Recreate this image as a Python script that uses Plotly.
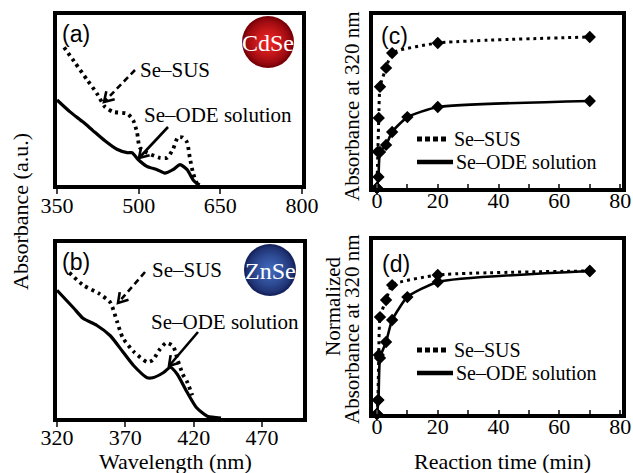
import plotly.graph_objects as go
import math

# ---------------- data ----------------
# (a) CdSe spectra
wl_a_ode = [350, 374, 398, 416, 438, 460, 479, 488, 499, 515, 534, 548, 563, 576, 589, 600, 607, 612]
abs_a_ode = [0.50, 0.43, 0.37, 0.32, 0.26, 0.21, 0.19, 0.19, 0.15, 0.11, 0.09, 0.07, 0.09, 0.12, 0.09, 0.03, 0.01, 0.0]
wl_a_sus = [363, 383, 405, 423, 438, 453, 479, 490, 497, 502, 515, 539, 552, 563, 572, 581, 589, 594, 600, 607, 612]
abs_a_sus = [0.81, 0.72, 0.62, 0.54, 0.46, 0.43, 0.42, 0.38, 0.31, 0.22, 0.19, 0.16, 0.16, 0.21, 0.28, 0.28, 0.25, 0.16, 0.07, 0.01, 0.0]

# (b) ZnSe spectra
wl_b_ode = [320, 332, 339, 349, 359, 368, 376, 386, 390, 398, 403, 408, 415, 422, 430, 440]
abs_b_ode = [0.73, 0.63, 0.57, 0.53, 0.47, 0.38, 0.30, 0.23, 0.23, 0.26, 0.29, 0.25, 0.15, 0.06, 0.01, 0.0]
wl_b_sus = [329, 339, 351, 359, 364, 368, 376, 386, 390, 395, 400, 405, 408, 412, 415, 419]
abs_b_sus = [0.83, 0.76, 0.71, 0.66, 0.55, 0.46, 0.38, 0.32, 0.33, 0.39, 0.43, 0.41, 0.34, 0.25, 0.21, 0.13]

# (c) absorbance at 320 nm vs time
t_c_sus = [0, 0.3, 0.6, 1, 3, 5, 20, 70]
a_c_sus = [0.0, 0.21, 0.405, 0.585, 0.694, 0.78, 0.838, 0.873]
t_c_ode = [0, 0.5, 1, 3, 5, 10, 20, 70]
a_c_ode = [0.0, 0.064, 0.208, 0.249, 0.324, 0.41, 0.468, 0.503]

# (d) normalized absorbance at 320 nm vs time
t_d_sus = [0, 0.3, 0.6, 1, 3, 5, 20, 70]
a_d_sus = [0.0, 0.08, 0.339, 0.557, 0.655, 0.741, 0.799, 0.822]
t_d_ode = [0, 0.5, 1, 3, 5, 10, 20, 70]
a_d_ode = [0.0, 0.08, 0.322, 0.414, 0.54, 0.672, 0.759, 0.822]

x_ticks_a = [350, 500, 650, 800]
x_ticks_b = [320, 370, 420, 470]
x_ticks_t = [0, 20, 40, 60, 80]

name_sus = "Se\u2013SUS"
name_ode = "Se\u2013ODE solution"

# ---------------- layout helpers ----------------
W, H = 633, 473
SERIF = "Liberation Serif, Times New Roman, serif"
SANS = "Liberation Sans, Arial, sans-serif"
def PX(x): return x / W
def PY(y): return 1 - y / H

fig = go.Figure()

DOT = "3px,4px"
def spectrum(x, y, xa, ya, dotted):
    fig.add_trace(go.Scatter(
        x=x, y=y, xaxis=xa, yaxis=ya, mode="lines", showlegend=False,
        line=dict(color="black", width=3.8 if dotted else 3.2, dash=DOT if dotted else "solid",
                  shape="spline", smoothing=0.6)))

spectrum(wl_a_ode, abs_a_ode, "x", "y", False)
spectrum(wl_a_sus, abs_a_sus, "x", "y", True)
spectrum(wl_b_ode, abs_b_ode, "x3", "y3", False)
spectrum(wl_b_sus, abs_b_sus, "x3", "y3", True)

def kinetics(t, a, xa, ya, dotted, name):
    fig.add_trace(go.Scatter(
        x=t, y=a, xaxis=xa, yaxis=ya, mode="lines+markers", showlegend=False, cliponaxis=False,
        name=name,
        line=dict(color="black", width=3 if dotted else 2.6, dash=DOT if dotted else "solid",
                  shape="spline", smoothing=0.5),
        marker=dict(symbol="diamond", size=9.5, color="black")))

kinetics(t_c_sus, a_c_sus, "x2", "y2", True, name_sus)
kinetics(t_c_ode, a_c_ode, "x2", "y2", False, name_ode)
kinetics(t_d_sus, a_d_sus, "x4", "y4", True, name_sus)
kinetics(t_d_ode, a_d_ode, "x4", "y4", False, name_ode)

axis_common = dict(showline=True, linecolor="black", linewidth=3.5, mirror=True, showgrid=False,
                   zeroline=False, automargin=False,
                   tickfont=dict(family=SERIF, size=22, color="black"))
yax = dict(axis_common, showticklabels=False, ticks="", range=[0, 1])

fig.update_layout(
    template="none", showlegend=False,
    width=W, height=H, margin=dict(l=0, r=0, t=0, b=0, autoexpand=False),
    paper_bgcolor="white", plot_bgcolor="white",
    xaxis=dict(axis_common, domain=[PX(57), PX(302)], range=[350, 800], tickvals=x_ticks_a,
               ticks="outside", ticklen=5, tickwidth=2, anchor="y", ticklabelstandoff=-7),
    yaxis=dict(yax, domain=[PY(185), PY(15)], anchor="x"),
    xaxis2=dict(axis_common, domain=[PX(373), PX(622)], range=[-1.3, 80.6], tickvals=x_ticks_t,
                ticks="inside", ticklen=4, tickwidth=2, anchor="y2", ticklabelstandoff=-10,
                minor=dict(dtick=10, tick0=0, ticks="inside", ticklen=4, tickwidth=2)),
    yaxis2=dict(yax, domain=[PY(188), PY(15)], anchor="x2"),
    xaxis3=dict(axis_common, domain=[PX(57), PX(303)], range=[320, 500], tickvals=x_ticks_b,
                ticks="outside", ticklen=5, tickwidth=2, anchor="y3", ticklabelstandoff=-8),
    yaxis3=dict(yax, domain=[PY(418), PY(243)], anchor="x3"),
    xaxis4=dict(axis_common, domain=[PX(373), PX(622)], range=[-1.3, 80.6], tickvals=x_ticks_t,
                ticks="inside", ticklen=4, tickwidth=2, anchor="y4", ticklabelstandoff=-10,
                minor=dict(dtick=10, tick0=0, ticks="inside", ticklen=4, tickwidth=2)),
    yaxis4=dict(yax, domain=[PY(414), PY(240)], anchor="x4"),
)

shapes = []
annots = []

def text(x, y, s, size=21, family=SERIF, angle=0, color="black", xanchor="center"):
    annots.append(dict(x=PX(x), y=PY(y), xref="paper", yref="paper", text=s, showarrow=False,
                       font=dict(family=family, size=size, color=color), textangle=angle,
                       xanchor=xanchor, yanchor="middle"))

def arrow(x0, y0, x1, y1, dashed):
    shapes.append(dict(type="line", xref="paper", yref="paper", x0=PX(x0), y0=PY(y0), x1=PX(x1), y1=PY(y1),
                       line=dict(color="black", width=2.6, dash="6px,4px" if dashed else "solid")))
    dx, dy = x1 - x0, y1 - y0
    L = math.hypot(dx, dy)
    ux, uy = dx / L, dy / L
    hl, ang = 11, math.radians(32)
    pts = []
    for s in (1, -1):
        c, sn = math.cos(s * ang), math.sin(s * ang)
        rx, ry = ux * c - uy * sn, ux * sn + uy * c
        pts.append((x1 - hl * rx, y1 - hl * ry))
    path = "M {} {} L {} {} L {} {}".format(PX(pts[0][0]), PY(pts[0][1]), PX(x1), PY(y1), PX(pts[1][0]), PY(pts[1][1]))
    shapes.append(dict(type="path", xref="paper", yref="paper", path=path,
                       line=dict(color="black", width=2.6)))

def ball(cx, cy, r, edge, center, label):
    n = 10
    e = [int(edge[i:i + 2], 16) for i in (1, 3, 5)]
    c = [int(center[i:i + 2], 16) for i in (1, 3, 5)]
    for i in range(n):
        f = i / (n - 1)
        rr = r * (1 - 0.8 * f)
        col = "rgb({},{},{})".format(*[round(e[k] + (c[k] - e[k]) * f ** 0.7) for k in range(3)])
        shapes.append(dict(type="circle", xref="paper", yref="paper",
                           x0=PX(cx - rr), x1=PX(cx + rr), y0=PY(cy + rr), y1=PY(cy - rr),
                           fillcolor=col, line=dict(width=0)))
    text(cx, cy + 1, label, size=24, color="white")

def legend_box(x, y_top, gap):
    # dotted sample + label, solid sample + label
    shapes.append(dict(type="line", xref="paper", yref="paper", x0=PX(x), x1=PX(x + 31),
                       y0=PY(y_top), y1=PY(y_top), line=dict(color="black", width=5, dash="5px,3px")))
    text(x + 35, y_top, name_sus, size=20, xanchor="left")
    shapes.append(dict(type="line", xref="paper", yref="paper", x0=PX(x), x1=PX(x + 36),
                       y0=PY(y_top + gap), y1=PY(y_top + gap), line=dict(color="black", width=4.5)))
    text(x + 37, y_top + gap, name_ode, size=20, xanchor="left")

# panel labels
text(76, 34, "(a)", size=23, family=SANS)
text(76, 262, "(b)", size=23, family=SANS)
text(394, 36, "(c)", size=23, family=SANS)
text(396, 264, "(d)", size=23, family=SANS)

# (a) annotations
text(175, 70, name_sus)
text(218, 115, name_ode)
arrow(135, 70, 104, 102, True)
arrow(168, 127, 139, 158, False)
ball(268, 42, 26, "#7a0008", "#e52222", "CdSe")

# (b) annotations
text(187, 270, name_sus)
text(225, 322, name_ode)
arrow(145, 272, 118, 303, True)
arrow(198, 332, 169, 366, False)
ball(270, 270, 26, "#16245e", "#3d63b5", "ZnSe")

# legends
legend_box(417, 139, 23)
legend_box(417, 350, 23)

# axis titles
text(21, 212, "Absorbance (a.u.)", size=22, angle=-90)
text(175, 461, "Wavelength (nm)", size=22)
text(352, 106, "Absorbance at 320 nm", size=21, angle=-90)
text(333, 306, "Normalized", size=21, angle=-90)
text(352, 329, "Absorbance at 320 nm", size=21, angle=-90)
text(502, 461, "Reaction time (min)", size=22)

fig.update_layout(shapes=shapes, annotations=annots)
fig.write_html("out.html", config={"displayModeBar": False},
               post_script="document.body.style.margin='0';document.body.style.padding='0';")
